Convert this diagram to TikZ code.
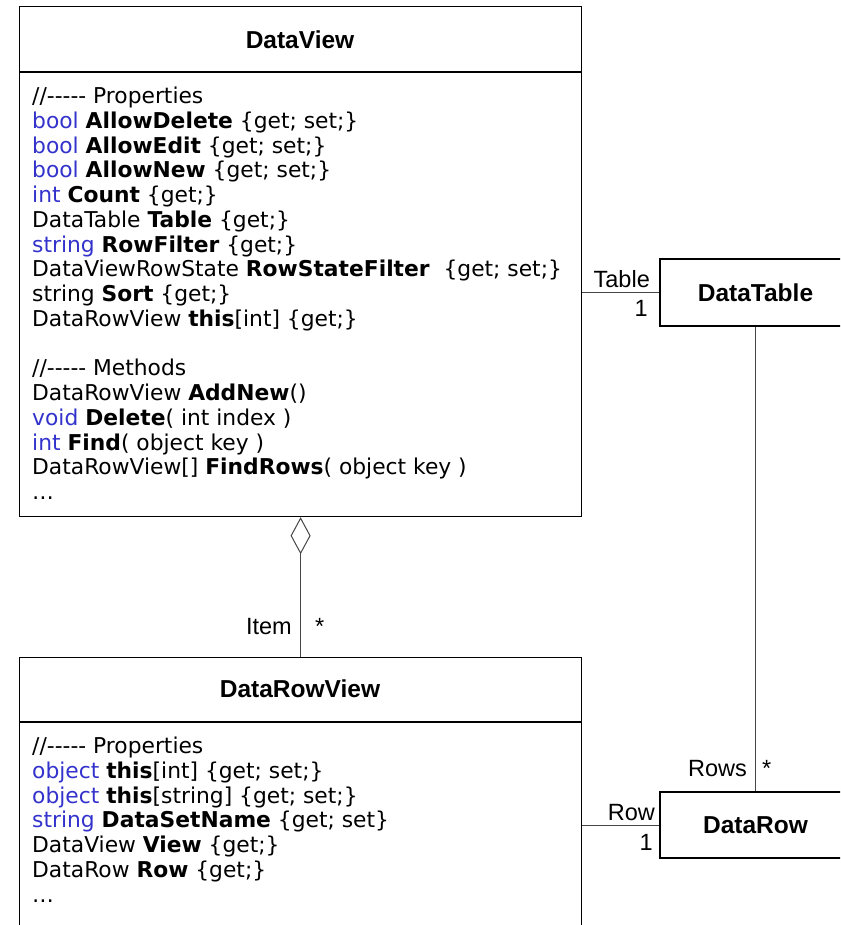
\documentclass[tikz,border=0pt]{standalone}
\usepackage{fontspec}
\setmainfont{Liberation Sans}
\newfontfamily\memberfont{DejaVu Sans}
\usetikzlibrary{arrows.meta}
\definecolor{typeblue}{RGB}{51,51,204}
\definecolor{linkgray}{RGB}{70,70,70}
% member list helpers: blue type keyword, bold member name, comment rule
\newcommand\kw[1]{\textcolor{typeblue}{#1}}
\newcommand\nm[1]{\textbf{#1}}
\newcommand\cmtdash{/\kern0pt/\kern0pt-\kern0pt-\kern0pt-\kern0pt-\kern0pt-}
\begin{document}
\begin{tikzpicture}[x=1pt,y=-1pt,
  classbox/.style={draw, line width=1.2pt, inner sep=0pt},
  classtitle/.style={font=\fontsize{24.5}{28}\selectfont\bfseries},
  members/.style={font=\memberfont\fontsize{21.8}{24.75}\selectfont,
    align=left, anchor=north west, inner sep=0pt},
  link/.style={draw=linkgray, line width=1pt},
  role/.style={font=\fontsize{23.5}{28}\selectfont, inner sep=0pt}]
\useasboundingbox (0,0) rectangle (840,925);
\clip (0,0) rectangle (840,925);

% ---- DataView class
\node[classbox, anchor=north west, minimum width=562pt, minimum height=510pt] (dv) at (19,6) {};
\draw[line width=1.2pt] (19,72) -- (581,72);
\node[classtitle] (dvtitle) at (300,39.5) {DataView};
\node[members] (dvbody) at (32,85.5) {\rule{0pt}{18pt}\cmtdash{} Properties\\
\kw{bool} \nm{AllowDelete} \{get; set;\}\\
\kw{bool} \nm{AllowEdit} \{get; set;\}\\
\kw{bool} \nm{AllowNew} \{get; set;\}\\
\kw{int} \nm{Count} \{get;\}\\
DataTable \nm{Table} \{get;\}\\
\kw{string} \nm{RowFilter} \{get;\}\\
DataViewRowState \nm{RowStateFilter}\ \ \{get; set;\}\\
string \nm{Sort} \{get;\}\\
DataRowView \nm{this}[int] \{get;\}\\[24.75pt]
\cmtdash{} Methods\\
DataRowView \nm{AddNew}()\\
\kw{void} \nm{Delete}( int index )\\
\kw{int} \nm{Find}( object key )\\
DataRowView[] \nm{FindRows}( object key )\\
…};

% ---- DataTable class
\node[classbox, classtitle, minimum width=191pt, minimum height=67pt] (dt) at (755.5,292.5) {DataTable};

% ---- DataRow class
\node[classbox, classtitle, minimum width=191pt, minimum height=66pt] (dr) at (755.5,825) {DataRow};

% ---- DataRowView class
\node[classbox, anchor=north west, minimum width=562pt, minimum height=300pt] (drv) at (19,657) {};
\draw[line width=1.2pt] (19,722) -- (581,722);
\node[classtitle] (drvtitle) at (300,689) {DataRowView};
\node[members] (drvbody) at (32,735.5) {\rule{0pt}{18pt}\cmtdash{} Properties\\
\kw{object} \nm{this}[int] \{get; set;\}\\
\kw{object} \nm{this}[string] \{get; set;\}\\
\kw{string} \nm{DataSetName} \{get; set\}\\
DataView \nm{View} \{get;\}\\
DataRow \nm{Row} \{get;\}\\
…};

% ---- associations
\draw[link] (dv.east |- dt.west) -- (dt.west);
\draw[link] (dt.south) -- (dr.north);
\draw[link] (drv.east |- dr.west) -- (dr.west);
\draw[link, -{Diamond[open, length=37pt, width=20pt, line width=1pt]}] (drv.north) -- (dv.south);

% ---- role names and multiplicities
\node[role, anchor=base east] (tablelbl) at (650,287) {Table};
\node[role, anchor=base east] (tablemult) at (648,316) {1};
\node[role, anchor=base east] (rowslbl) at (747,776) {Rows};
\node[role, anchor=base west] (rowsmult) at (762,776) {*};
\node[role, anchor=base east] (rowlbl) at (655,820) {Row};
\node[role, anchor=base east] (rowmult) at (653,850) {1};
\node[role, anchor=base east] (itemlbl) at (292,634) {Item};
\node[role, anchor=base west] (itemmult) at (315,634) {*};
\end{tikzpicture}
\end{document}
